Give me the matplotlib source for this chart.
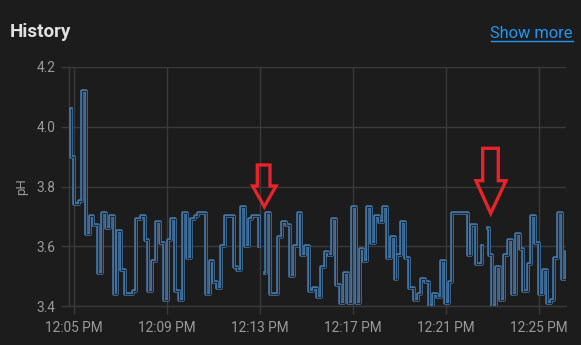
import numpy as np
import pandas as pd
import matplotlib
matplotlib.use("Agg")
import matplotlib.pyplot as plt
import matplotlib.dates as mdates
from matplotlib.patches import Polygon

# pH readings, a value holds until the next time; None marks a gap in the record
times = [
    "12:04:51", "12:04:52", "12:05:01", "12:05:12", "12:05:21", "12:05:31",
    "12:05:40", "12:05:50", "12:06:01", "12:06:12", "12:06:22", "12:06:32",
    "12:06:42", "12:06:52", "12:07:01", "12:07:12", "12:07:32", "12:07:41",
    "12:07:52", "12:08:02", "12:08:12", "12:08:21", "12:08:32", "12:08:43",
    "12:08:51", "12:09:03", "12:09:11", "12:09:21", "12:09:31", "12:09:42",
    "12:09:52", "12:10:01", "12:10:12", "12:10:20", "12:10:41", "12:10:52",
    "12:11:00", "12:11:10", "12:11:20", "12:11:30", "12:11:52", "12:12:01",
    "12:12:11", "12:12:21", "12:12:31", "12:12:40", "12:12:58", None,
    "12:13:14", "12:13:15", "12:13:27", "12:13:46", "12:13:56", "12:14:07",
    "12:14:17", "12:14:27", "12:14:37", "12:14:46", "12:14:56", "12:15:06",
    "12:15:16", "12:15:26", "12:15:37", "12:15:47", "12:15:56", "12:16:07",
    "12:16:17", "12:16:26", "12:16:37", "12:16:47", "12:16:57", "12:17:07",
    "12:17:17", "12:17:27", "12:17:37", "12:17:47", "12:17:57", "12:18:07",
    "12:18:17", "12:18:27", "12:18:37", "12:18:48", "12:18:54", "12:19:04",
    "12:19:15", "12:19:25", "12:19:37", "12:19:47", "12:19:56", "12:20:07",
    "12:20:16", "12:20:26", "12:20:37", "12:20:47", "12:20:57", "12:21:07",
    "12:21:16", "12:21:56", "12:22:06", "12:22:17", "12:22:33", None,
    "12:22:49", "12:22:50", "12:22:59", "12:23:09", "12:23:19", "12:23:30",
    "12:23:40", "12:23:50", "12:24:00", "12:24:11", "12:24:19", "12:24:31",
    "12:24:39", "12:24:50", "12:25:00", "12:25:10", "12:25:20", "12:25:30",
    "12:25:40", "12:25:50", "12:26:00", "12:26:10",
]
ph = [
    4.06, 3.90, 3.74, 3.75, 4.12, 3.64,
    3.70, 3.67, 3.51, 3.71, 3.66, 3.70,
    3.44, 3.65, 3.52, 3.44, 3.45, 3.69,
    3.70, 3.62, 3.45, 3.55, 3.68, 3.61,
    3.42, 3.62, 3.69, 3.45, 3.42, 3.71,
    3.56, 3.69, 3.70, 3.71, 3.44, 3.55,
    3.48, 3.46, 3.60, 3.70, 3.53, 3.52,
    3.73, 3.60, 3.69, 3.70, 3.60, None,
    3.51, 3.71, 3.44, 3.63, 3.68, 3.67,
    3.50, 3.60, 3.71, 3.57, 3.60, 3.45,
    3.46, 3.43, 3.53, 3.58, 3.57, 3.69,
    3.47, 3.41, 3.51, 3.41, 3.73, 3.41,
    3.59, 3.55, 3.73, 3.61, 3.70, 3.68,
    3.73, 3.56, 3.63, 3.49, 3.57, 3.68,
    3.56, 3.46, 3.42, 3.44, 3.49, 3.48,
    3.40, 3.44, 3.43, 3.55, 3.41, 3.48,
    3.71, 3.57, 3.67, 3.54, 3.60, None,
    3.66, 3.57, 3.40, 3.53, 3.42, 3.57,
    3.62, 3.44, 3.64, 3.59, 3.45, 3.54,
    3.70, 3.61, 3.44, 3.52, 3.41, 3.42,
    3.56, 3.71, 3.49, 3.58,
]
x_range = ["12:04:47", "12:26:10"]
y_ticks = [3.4, 3.6, 3.8, 4.0, 4.2]
tick_minutes = [5, 9, 13, 17, 21, 25]

BG = "#1c1c1c"
GRID = "#3a3a3a"
TXT = "#9a9a9a"
LINE = "#4477a6"
LINE_IN = "#20293a"
DAY = "2023-01-01 "

plt.rcParams["font.family"] = ["Roboto", "DejaVu Sans"]

fig = plt.figure(figsize=(5.81, 3.45), dpi=100, facecolor=BG)
axis = fig.add_axes([69 / 581, 1 - 306 / 345, 497 / 581, 239 / 345], facecolor=BG)

# split into runs at the gaps and draw each run as a hollow step line
runs, cur = [], []
for t, v in zip(times, ph):
    if t is None:
        runs.append(cur)
        cur = []
    else:
        cur.append((pd.Timestamp(DAY + t), v))
runs.append(cur)
for run in runs:
    tt = [r[0] for r in run]
    vv = [r[1] for r in run]
    axis.step(tt, vv, where="post", color=LINE, lw=2.6, zorder=3)
    axis.step(tt, vv, where="post", color=LINE_IN, lw=0.8, zorder=4)

axis.set_xlim(pd.Timestamp(DAY + x_range[0]), pd.Timestamp(DAY + x_range[1]))
axis.set_ylim(y_ticks[0], y_ticks[-1])
axis.set_yticks(y_ticks)
axis.set_yticklabels([f"{y:.1f}" for y in y_ticks])
axis.xaxis.set_major_locator(mdates.MinuteLocator(byminute=tick_minutes))
axis.xaxis.set_major_formatter(mdates.DateFormatter("%I:%M %p"))

axis.grid(True, color=GRID, lw=1)
axis.set_axisbelow(True)
for side in ["top", "right"]:
    axis.spines[side].set_visible(False)
for side in ["left", "bottom"]:
    axis.spines[side].set_color(GRID)
    axis.spines[side].set_linewidth(1)
axis.tick_params(axis="both", colors=GRID, labelcolor=TXT, labelsize=9.8,
                 length=6, width=1)
axis.tick_params(axis="x", pad=5)
axis.tick_params(axis="y", pad=4)
axis.set_ylabel("pH", color=TXT, fontsize=9.5, labelpad=6)

fig.text(10 / 581, 1 - 32 / 345, "History", color="#e1e1e1", fontsize=13.5,
         fontweight="bold", va="center", ha="left")
fig.text(573 / 581, 1 - 33 / 345, "Show more", color="#2196f3", fontsize=11.8,
         va="center", ha="right")
fig.add_artist(plt.Line2D([491 / 581, 573 / 581], [1 - 41 / 345, 1 - 41 / 345],
                          color="#2196f3", lw=1))

# red hand-drawn arrows marking two readings
arrows = [
    [(257.3, 165), (270, 165), (270, 186), (276, 186), (264.3, 206.7),
     (252.7, 186), (257.3, 186)],
    [(482.7, 148.3), (498.3, 148.3), (498.3, 180.7), (506, 180.7),
     (490.7, 213.3), (476, 180.7), (482.7, 180.7)],
]
for arr in arrows:
    pts = [(px / 581, 1 - py / 345) for px, py in arr]
    fig.add_artist(Polygon(pts, closed=True, fill=False, edgecolor="#e8232b",
                           lw=2.4, joinstyle="miter", transform=fig.transFigure))

fig.savefig("out.png", dpi=100, facecolor=BG)
